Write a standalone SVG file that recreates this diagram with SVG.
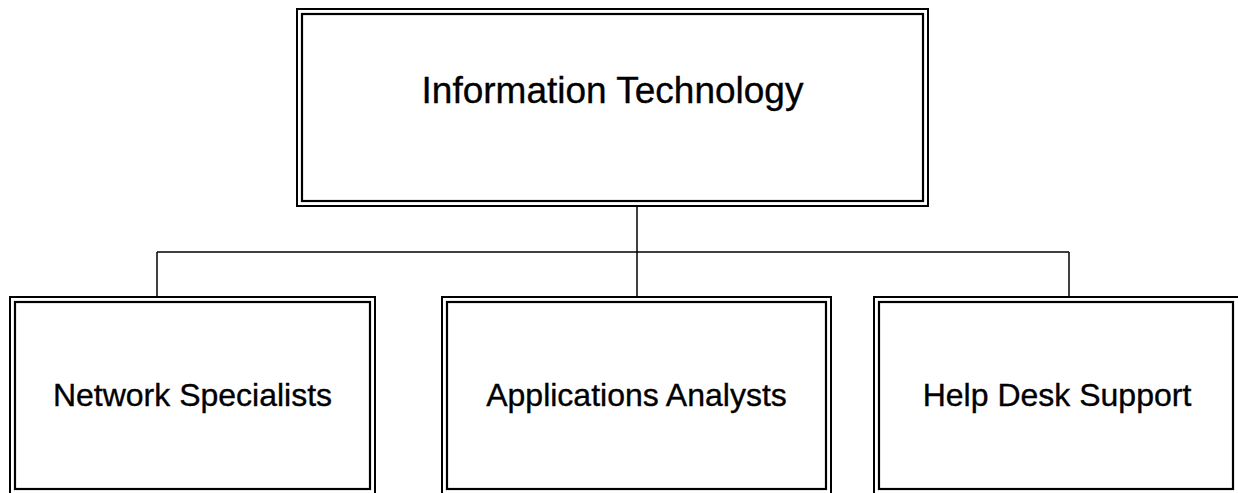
<svg xmlns="http://www.w3.org/2000/svg" width="1238" height="493" viewBox="0 0 1238 493">
<style>
.o{fill:none;stroke:#000;stroke-width:2}
.i{fill:none;stroke:#000;stroke-width:2.2}
.c{fill:none;stroke:#000;stroke-width:1.5}
text{font-family:"Liberation Sans",Arial,sans-serif;fill:#000;stroke:#000;stroke-width:0.35;text-anchor:middle}
.t{font-size:37px}
.s{font-size:32px}
</style>
<rect width="1238" height="493" fill="#fff"/>
<g id="connectors">
<line class="c" x1="637" y1="206" x2="637" y2="297"/>
<line class="c" x1="157" y1="252" x2="1069" y2="252"/>
<line class="c" x1="157" y1="252" x2="157" y2="297"/>
<line class="c" x1="1069" y1="252" x2="1069" y2="297"/>
</g>
<g id="it">
<rect class="o" x="297" y="9" width="631" height="197"/>
<rect class="i" x="302" y="14" width="621" height="187"/>
<text class="t" x="612.5" y="103">Information Technology</text>
</g>
<g id="network">
<rect class="o" x="10" y="297" width="365" height="198"/>
<rect class="i" x="15" y="302" width="355" height="187"/>
<text class="s" x="192.5" y="406">Network Specialists</text>
</g>
<g id="apps">
<rect class="o" x="442" y="297" width="389" height="198"/>
<rect class="i" x="447" y="302" width="379" height="187"/>
<text class="s" x="636.5" y="406">Applications Analysts</text>
</g>
<g id="helpdesk">
<rect class="o" x="874" y="297" width="366" height="198"/>
<rect class="i" x="879" y="302" width="354" height="187"/>
<text class="s" x="1057" y="406">Help Desk Support</text>
</g>
</svg>
